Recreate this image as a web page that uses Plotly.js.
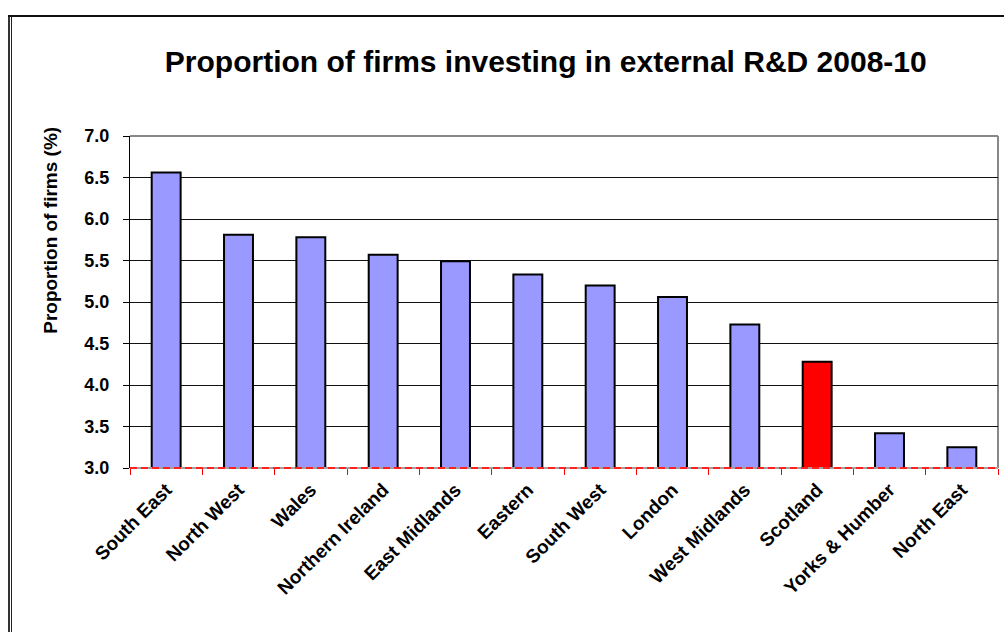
<!DOCTYPE html>
<html>
<head>
<meta charset="utf-8">
<script src="https://cdn.plot.ly/plotly-3.0.1.min.js"></script>
<style>
  html, body { margin: 0; padding: 0; background: #fff; }
  #wrap { position: relative; width: 1004px; height: 632px; overflow: hidden; }
  #chart { position: absolute; left: 0; top: 0; width: 1004px; height: 632px; }
  .bl { position: absolute; background: #000; pointer-events: none; }
</style>
</head>
<body>
<div id="wrap">
  <div id="chart"></div>
  <div class="bl" style="left:8px; top:15px; width:2px; height:617px; background:#333;"></div>
  <div class="bl" style="left:11px; top:15px; width:1px; height:617px; background:#222;"></div>
  <div class="bl" style="left:8px; top:15px; width:996px; height:2px; background:#111;"></div>
</div>
<script>
const regions = ["South East", "North West", "Wales", "Northern Ireland", "East Midlands", "Eastern",
                 "South West", "London", "West Midlands", "Scotland", "Yorks & Humber", "North East"];
const proportions = [6.56, 5.81, 5.78, 5.57, 5.49, 5.33, 5.20, 5.06, 4.73, 4.28, 3.42, 3.25];
const highlight = "Scotland";
const yTicks = [3.0, 3.5, 4.0, 4.5, 5.0, 5.5, 6.0, 6.5, 7.0];

const barColors = regions.map(r => r === highlight ? "#FF0000" : "#9999FF");

const trace = {
  type: "bar",
  x: regions,
  y: proportions,
  width: 0.4,
  marker: { color: barColors, line: { color: "#000", width: 2 } },
  hoverinfo: "x+y"
};

const layout = {
  width: 1004,
  height: 632,
  margin: { l: 130, r: 6, t: 136, b: 164 },
  paper_bgcolor: "#fff",
  plot_bgcolor: "#fff",
  showlegend: false,
  font: { family: "Liberation Sans, Arial, sans-serif", color: "#000" },
  title: {
    text: "Proportion of firms investing in external R&D 2008-10",
    font: { family: "Liberation Sans, Arial, sans-serif", size: 30, color: "#000", weight: "bold" },
    xref: "paper", x: 0.479, xanchor: "center",
    yref: "container", y: 1 - 61 / 632, yanchor: "middle"
  },
  xaxis: {
    type: "category",
    range: [-0.5, regions.length - 0.5],
    showgrid: false,
    showline: false,
    zeroline: false,
    ticks: "outside",
    tickson: "boundaries",
    ticklen: 6,
    tickwidth: 1,
    tickcolor: "#FF0000",
    tickangle: -45,
    ticklabelstandoff: 6,
    tickfont: { family: "Liberation Sans, Arial, sans-serif", size: 19, color: "#000", weight: "bold" },
    fixedrange: true
  },
  yaxis: {
    range: [3.0, 7.0],
    tickvals: yTicks,
    ticktext: yTicks.map(v => v.toFixed(1)),
    showgrid: true,
    gridcolor: "#111",
    gridwidth: 1,
    zeroline: false,
    showline: true,
    linecolor: "#000",
    linewidth: 1,
    ticks: "outside",
    ticklen: 6,
    tickcolor: "#000",
    tickfont: { family: "Liberation Sans, Arial, sans-serif", size: 18, color: "#000", weight: "bold" },
    ticklabelstandoff: 10,
    fixedrange: true
  },
  shapes: [
    { type: "line", xref: "paper", yref: "paper", x0: 0, x1: 1, y0: 1, y1: 1, line: { color: "#888", width: 2 }, layer: "below" },
    { type: "line", xref: "paper", yref: "paper", x0: 1, x1: 1, y0: 0, y1: 1, line: { color: "#888", width: 2 }, layer: "below" },
    { type: "line", xref: "paper", yref: "paper", x0: 0, x1: 1, y0: 0, y1: 0, line: { color: "#A0A0A0", width: 2 }, layer: "above" },
    { type: "line", xref: "paper", yref: "paper", x0: 0, x1: 1, y0: 0, y1: 0, line: { color: "#FF2020", width: 2, dash: "7px,4px" }, layer: "above" }
  ],
  annotations: [
    {
      text: "Proportion of firms (%)",
      xref: "paper", yref: "paper",
      x: -0.092, y: 0.715,
      xanchor: "center", yanchor: "middle",
      textangle: -90,
      showarrow: false,
      font: { family: "Liberation Sans, Arial, sans-serif", size: 19, color: "#000", weight: "bold" }
    }
  ]
};

Plotly.newPlot("chart", [trace], layout, { displayModeBar: false, staticPlot: true });
</script>
</body>
</html>
